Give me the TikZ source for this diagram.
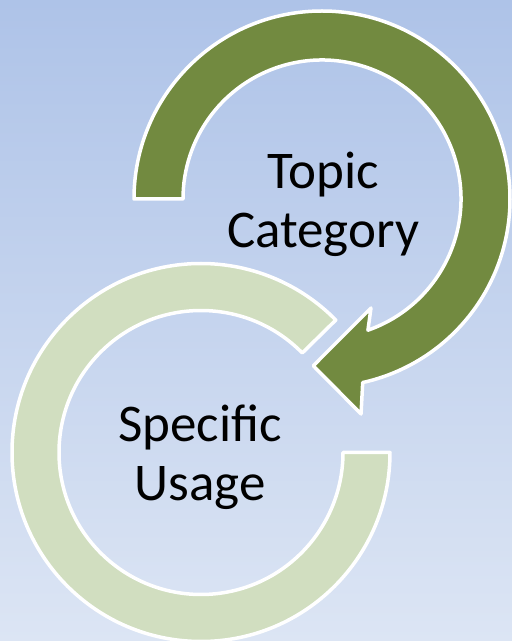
\documentclass[tikz,border=0pt]{standalone}
\usepackage{fontspec}
\setmainfont{Carlito}
\definecolor{bgtop}{RGB}{174,195,232}
\definecolor{bgbottom}{RGB}{220,229,244}
\definecolor{darkolive}{RGB}{114,138,64}
\definecolor{paleolive}{RGB}{209,222,192}

\begin{document}
\begin{tikzpicture}[x=1pt, y=1pt,
  ringband/.style={draw=white, line width=3.5pt, line join=round},
  ringtext/.style={align=center, font=\fontsize{53}{59}\selectfont, inner sep=0pt}]
  \shade[top color=bgtop, bottom color=bgbottom] (0,0) rectangle (512,641);
  \useasboundingbox (0,0) rectangle (512,641);
  \coordinate (dc) at (322,442);
  \coordinate (lc) at (201,188.5);
  % pale ring, open at the upper right
  \begin{scope}[shift={(lc)}]
    \draw[ringband, fill=paleolive] (0:189) arc[start angle=0, end angle=-315.5, radius=189]
      -- (44.5:142) arc[start angle=-315.5, end angle=0, radius=142] -- cycle;
  \end{scope}
  % dark ring with its arrow head
  \begin{scope}[shift={(dc)}]
    \draw[ringband, fill=darkolive] (180:188) arc[start angle=180, end angle=-77.5, radius=188]
      -- (-79.7:218.5) -- (-93:167) -- (-65.8:119.5) -- (-70.7:139)
      arc[start angle=-70.7, end angle=180, radius=139] -- cycle;
  \end{scope}
  \node[ringtext] (topic) at (323,437) {Topic\\Category};
  \node[ringtext] (usage) at (200,184) {Specific\\Usage};
\end{tikzpicture}
\end{document}
